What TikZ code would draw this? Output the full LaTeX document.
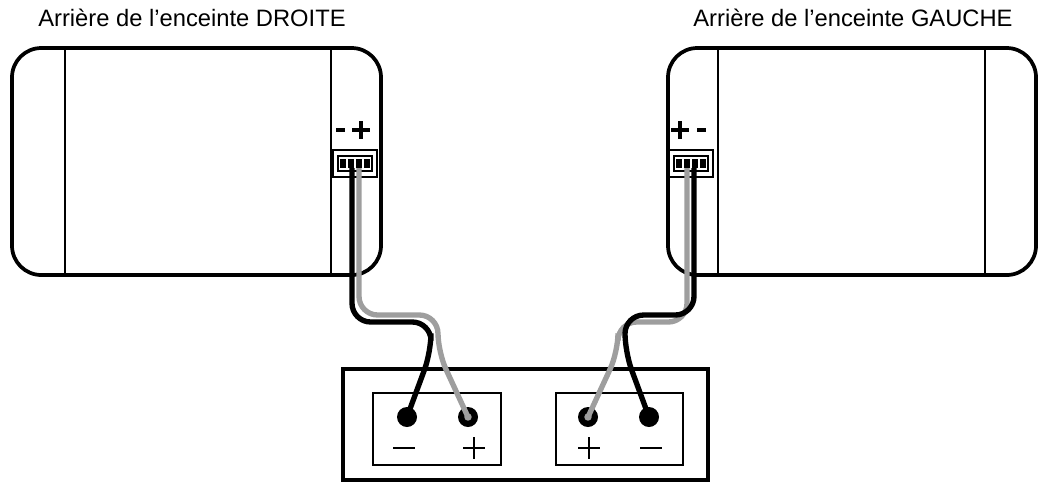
\documentclass[tikz,border=0pt]{standalone}
\usepackage{fontspec}
\setmainfont{Liberation Sans}
\begin{document}
\begin{tikzpicture}[x=0.75pt,y=-0.75pt,
  box/.style={draw=black,line width=2.8pt},
  thin/.style={draw=black,line width=1.5pt},
  bw/.style={draw=black,line width=4pt,rounded corners=14pt},
  gw/.style={draw=black!38,line width=4pt,rounded corners=14pt},
  lbl/.style={font=\fontsize{17.8}{20}\selectfont},
  sym/.style={line width=1.5pt},
  bsym/.style={line width=3.2pt},
  term/.style={circle,fill=black,minimum size=15pt,inner sep=0}]
\useasboundingbox (0,0) rectangle (1048,487);
% labels
\node[lbl] (tl) at (192,18) {Arrière de l’enceinte DROITE};
\node[lbl] (tr) at (853,18) {Arrière de l’enceinte GAUCHE};
% speakers
\draw[box,rounded corners=22pt] (12,48) rectangle (381,275);
\draw[thin] (65,50) -- (65,273) (331,50) -- (331,273);
\draw[box,rounded corners=22pt] (668,48) rectangle (1036,275);
\draw[thin] (718,50) -- (718,273) (985,50) -- (985,273);
% speaker terminals (- +) and (+ -)
\draw[bsym] (336,130) -- (345,130) (352,130) -- (370,130) (361,121) -- (361,139);
\draw[bsym] (671,130) -- (689,130) (680,121) -- (680,139) (697,130) -- (706,130);
\foreach \cx in {355,691}{
  \draw[line width=1.4pt,fill=white] (\cx-22,150) rectangle (\cx+22,177);
  \draw[line width=1pt] (\cx-17,156) rectangle (\cx+17,171);
  \foreach \k in {-12,-4,4,12}{\fill (\cx+\k-3,159) rectangle (\cx+\k+3,168);}
}
% amplifier
\draw[box] (343,369) rectangle (708,480);
\draw[thin] (373,393) rectangle (501,465);
\draw[thin] (556,393) rectangle (683,465);
\node[term] (lm) at (407,417) {};
\node[term] (lp) at (468,417) {};
\node[term] (rp) at (588,417) {};
\node[term] (rm) at (649,417) {};
\draw[sym] (393,448) -- (415,448);
\draw[sym] (463,448) -- (485,448) (474,437) -- (474,459);
\draw[sym] (578,448) -- (600,448) (589,437) -- (589,459);
\draw[sym] (640,448) -- (662,448);
\coordinate (lb) at (352,168);
\coordinate (lg) at (359,168);
\coordinate (rg) at (687,168);
\coordinate (rb) at (694,168);
% cables
\draw[bw] (lb) -- (352,322) -- (431,322) -- (431,352) [sharp corners] -- (lm.center);
\draw[gw] (lg) -- (359,315) -- (438,315) -- (438,352) [sharp corners] -- (lp.center);
\draw[gw] (rg) -- (687,322) -- (618,322) -- (618,352) [sharp corners] -- (rp.center);
\draw[bw] (rb) -- (694,315) -- (625,315) -- (625,352) [sharp corners] -- (rm.center);
\fill[black!38] (lp) circle (2.8pt);
\fill[black!38] (rp) circle (2.8pt);
\end{tikzpicture}
\end{document}
